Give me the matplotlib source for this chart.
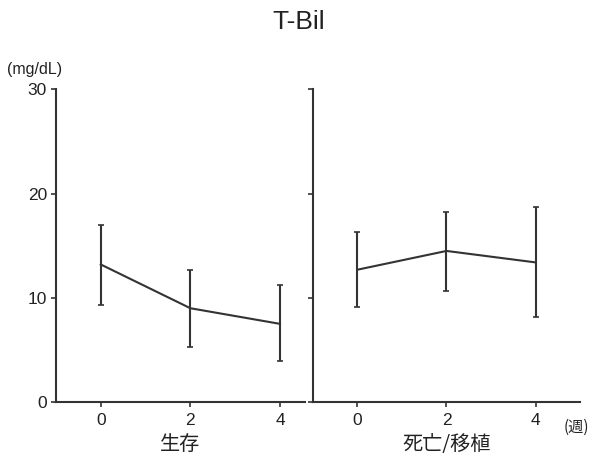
import matplotlib
matplotlib.use('Agg')
import matplotlib.pyplot as plt

plt.rcParams['font.family'] = ['Liberation Sans', 'Noto Sans CJK JP']

weeks = [0, 2, 4]
alive_mean = [13.2, 9.0, 7.5]
alive_upper = [17.0, 12.7, 11.2]
alive_lower = [9.3, 5.3, 3.9]
dead_mean = [12.7, 14.5, 13.4]
dead_upper = [16.3, 18.2, 18.7]
dead_lower = [9.1, 10.7, 8.2]

groups = ['生存', '死亡/移植']
yticks = [0, 10, 20, 30]
col = '#333333'
cjk = ['Noto Sans CJK JP', 'DejaVu Sans']

fig = plt.figure(figsize=(5.93, 4.57), dpi=100)
ax1 = fig.add_axes([0.0944, 0.1204, 0.42, 0.6838])
ax2 = fig.add_axes([0.5278, 0.1204, 0.4503, 0.6838])


def draw(ax, mean, upper, lower, xmax, label, show_y):
    err = [[m - l for m, l in zip(mean, lower)], [u - m for m, u in zip(mean, upper)]]
    ax.errorbar(weeks, mean, yerr=err, color=col, lw=1.5, elinewidth=1.5,
                capsize=2.5, capthick=1.2)
    ax.set_xlim(-1, xmax)
    ax.set_ylim(0, 30)
    ax.set_xticks(weeks)
    ax.set_yticks(yticks)
    ax.spines['top'].set_visible(False)
    ax.spines['right'].set_visible(False)
    for s in ['left', 'bottom']:
        ax.spines[s].set_color(col)
        ax.spines[s].set_linewidth(1.5)
    ax.tick_params(colors=col, length=3.5, width=1.2, labelsize=12.5,
                   labelcolor='#222222')
    ax.tick_params(axis='y', pad=3)
    ax.tick_params(axis='x', pad=4.5)
    if not show_y:
        ax.set_yticklabels([])
    ax.set_xlabel(label, fontsize=14.5, color='#222222', labelpad=4, family=cjk)


draw(ax1, alive_mean, alive_upper, alive_lower, 4.56, groups[0], True)
draw(ax2, dead_mean, dead_upper, dead_lower, 5, groups[1], False)

fig.text(0.503, 0.952, 'T-Bil', ha='center', va='center', fontsize=19, color='#222222')
fig.text(0.011, 0.849, '(mg/dL)', ha='left', va='center', fontsize=11.5, color='#222222')
fig.text(0.951, 0.066, '(週)', ha='left', va='center', fontsize=11, color='#222222',
         family=cjk)

fig.savefig('out.png', dpi=100)
